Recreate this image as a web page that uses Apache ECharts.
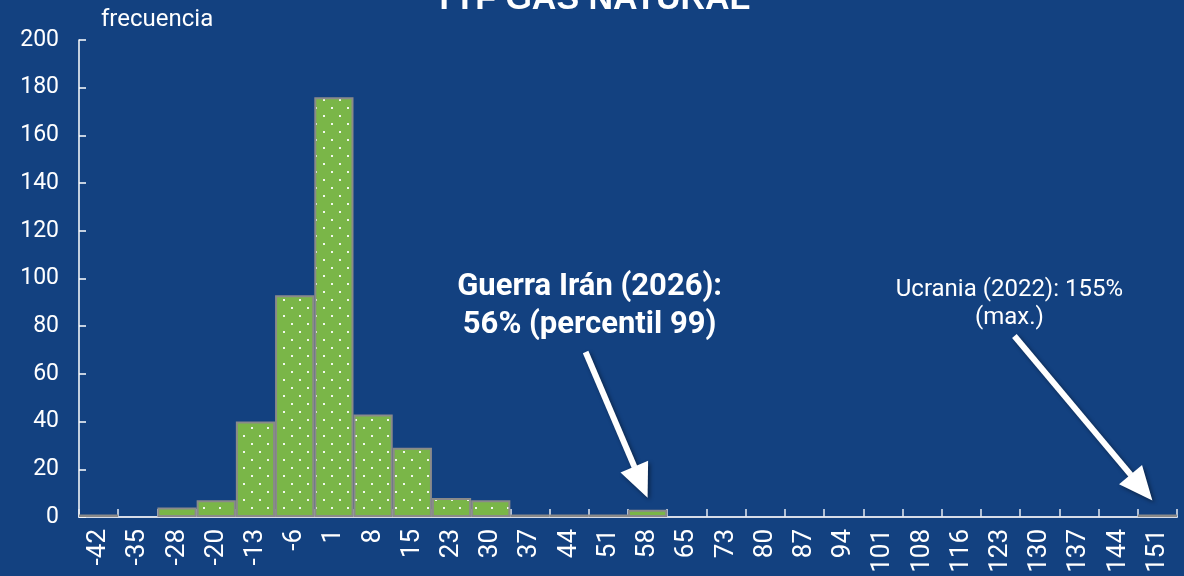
<!DOCTYPE html>
<html>
<head>
<meta charset="utf-8">
<script src="https://cdn.jsdelivr.net/npm/echarts@6/dist/echarts.min.js"></script>
<style>
  html, body { margin: 0; padding: 0; background: #134180; }
  #chart { width: 1184px; height: 576px; }
</style>
</head>
<body>
<div id="chart"></div>
<script>
// bins (variación %, límite de clase) y frecuencia de cada bin
const bins = ['-42', '-35', '-28', '-20', '-13', '-6', '1', '8', '15', '23', '30', '37', '44', '51',
  '58', '65', '73', '80', '87', '94', '101', '108', '116', '123', '130', '137', '144', '151'];
const freq = [1, 0, 4, 7, 40, 93, 176, 43, 29, 8, 7, 1, 1, 1,
  3, 0, 0, 0, 0, 0, 0, 0, 0, 0, 0, 0, 0, 1];
const yTicks = [0, 20, 40, 60, 80, 100, 120, 140, 160, 180, 200];

const bg = '#134180';
const green = '#7ab648';
const fontFamily = 'Roboto, "Noto Sans", sans-serif';

// patrón de puntos blancos sobre verde
function dotPattern() {
  const c = document.createElement('canvas');
  c.width = 16;
  c.height = 16;
  const g = c.getContext('2d');
  g.fillStyle = green;
  g.fillRect(0, 0, 16, 16);
  g.fillStyle = 'rgba(255,255,255,0.9)';
  g.fillRect(3, 3, 2, 2);
  g.fillRect(11, 11, 2, 2);
  return c;
}

const chart = echarts.init(document.getElementById('chart'));

function arrow(x1, y1, x2, y2, headLen, headW) {
  const dx = x2 - x1, dy = y2 - y1;
  const len = Math.sqrt(dx * dx + dy * dy);
  const ux = dx / len, uy = dy / len;
  const bx = x2 - ux * headLen, by = y2 - uy * headLen;
  const px = -uy * headW / 2, py = ux * headW / 2;
  const shadow = { shadowBlur: 4, shadowColor: 'rgba(0,0,0,0.45)', shadowOffsetX: 2, shadowOffsetY: 2 };
  return [
    {
      type: 'line',
      shape: { x1: x1, y1: y1, x2: bx + ux * 2, y2: by + uy * 2 },
      style: Object.assign({ stroke: '#fff', lineWidth: 6 }, shadow),
      z: 100
    },
    {
      type: 'polygon',
      shape: { points: [[x2, y2], [bx + px, by + py], [bx - px, by - py]] },
      style: Object.assign({ fill: '#fff' }, shadow),
      z: 101
    }
  ];
}

chart.setOption({
  backgroundColor: bg,
  animation: false,
  textStyle: { fontFamily: fontFamily },
  title: {
    text: 'TTF GAS NATURAL',
    left: 'center',
    top: -22,
    textStyle: { color: '#fff', fontSize: 34, fontWeight: 'bold', fontFamily: 'Liberation Sans, Arial, sans-serif' }
  },
  grid: { left: 79, right: 7, top: 40, bottom: 59, containLabel: false },
  xAxis: {
    type: 'category',
    data: bins,
    boundaryGap: true,
    axisLine: { lineStyle: { color: '#d6dce8', width: 2 } },
    axisTick: { show: true, inside: true, length: 8, alignWithLabel: false, lineStyle: { color: '#e8ecf2', width: 1.5 } },
    axisLabel: { color: '#fff', fontSize: 26, rotate: 90, margin: 12, interval: 0, fontFamily: fontFamily },
    splitLine: { show: false }
  },
  yAxis: {
    type: 'value',
    min: 0,
    max: 200,
    interval: 20,
    name: 'frecuencia',
    nameLocation: 'end',
    nameGap: 8,
    nameTextStyle: { color: '#fff', fontSize: 24, align: 'left', padding: [0, 0, 0, 22] },
    axisLine: { show: true, lineStyle: { color: '#fff', width: 1.5 } },
    axisTick: { show: true, inside: true, length: 7, lineStyle: { color: '#fff', width: 1.5 } },
    axisLabel: {
      color: '#fff', fontSize: 23, margin: 20,
      formatter: (v) => (yTicks.indexOf(v) >= 0 ? String(v) : '')
    },
    splitLine: { show: false }
  },
  series: [
    {
      type: 'bar',
      data: freq.map((v) => (v === 0 ? '-' : v)),
      barCategoryGap: '0%',
      itemStyle: {
        color: { image: dotPattern(), repeat: 'repeat' },
        borderColor: '#8a8a8a',
        borderWidth: 2
      },
      z: 1
    }
  ]
});

// anotaciones ancladas a los bins correspondientes
const tipIran = chart.convertToPixel({ seriesIndex: 0 }, ['58', 3]);
const tipUcr = chart.convertToPixel({ seriesIndex: 0 }, ['151', 1]);

chart.setOption({
  graphic: [
    {
      type: 'text',
      x: tipIran[0] - 58,
      y: 268,
      style: {
        text: 'Guerra Irán (2026):\n56% (percentil 99)',
        fill: '#fff',
        font: 'bold 31px Roboto, "Noto Sans", sans-serif',
        align: 'center',
        lineHeight: 38
      }
    },
    {
      type: 'text',
      x: tipUcr[0] - 148,
      y: 276,
      style: {
        text: 'Ucrania (2022): 155%\n(max.)',
        fill: '#fff',
        font: '24px Roboto, "Noto Sans", sans-serif',
        align: 'center',
        lineHeight: 28
      }
    }
  ].concat(
    arrow(tipIran[0] - 62, 352, tipIran[0], tipIran[1] - 12, 34, 30),
    arrow(tipUcr[0] - 143, 336, tipUcr[0] - 5, tipUcr[1] - 14, 34, 30)
  )
});
</script>
</body>
</html>
